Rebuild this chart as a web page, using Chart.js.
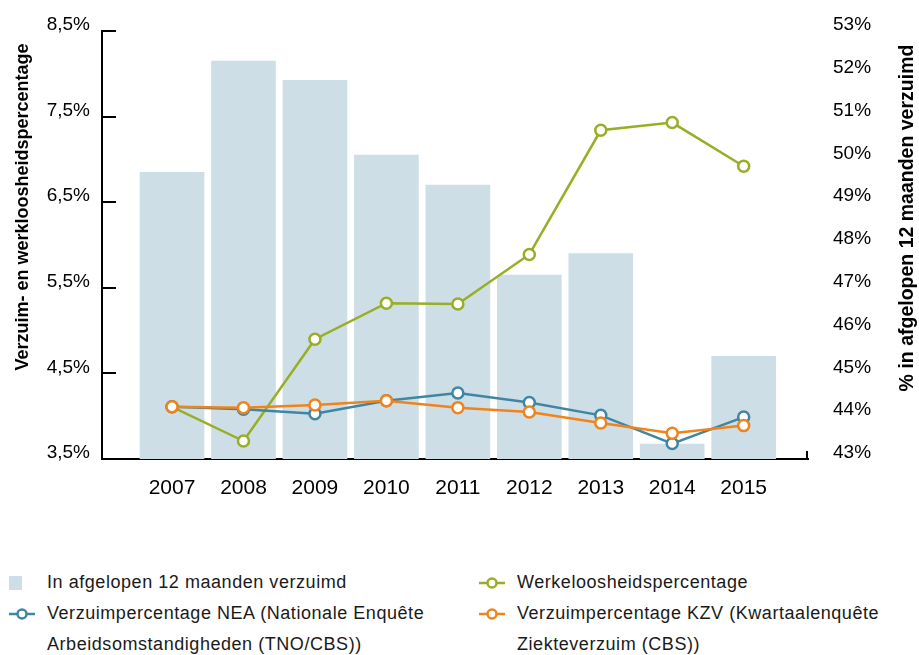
<!DOCTYPE html>
<html>
<head>
<meta charset="utf-8">
<script src="https://cdn.jsdelivr.net/npm/chart.js@4.4.1/dist/chart.umd.min.js"></script>
<style>
  body { margin: 0; background: #fff; font-family: "Liberation Sans", Arial, sans-serif; }
  #wrap { position: relative; width: 919px; height: 655px; }
  #chart { position: absolute; left: 0; top: 0; }
  .item { position: absolute; font-size: 18px; line-height: 31px; color: #1a1a1a; letter-spacing: 0.55px; }
  .item .mk { position: absolute; left: 0; top: 9px; }
  .item .txt { margin-left: 38px; white-space: nowrap; }
  .swatch { width: 13px; height: 14px; background: #cedee7; }
</style>
</head>
<body>
<div id="wrap">
  <canvas id="chart" width="919" height="500"></canvas>

  <div class="item" style="left:9px; top:567px;">
    <div class="mk swatch"></div>
    <div class="txt">In afgelopen 12 maanden verzuimd</div>
  </div>
  <div class="item" style="left:9px; top:598px;">
    <svg class="mk" width="26" height="14"><line x1="0" y1="7" x2="26" y2="7" stroke="#3f86a3" stroke-width="2.5"/><circle cx="13" cy="7" r="4.5" fill="#fff" stroke="#3f86a3" stroke-width="2.5"/></svg>
    <div class="txt">Verzuimpercentage NEA (Nationale Enquête<br>Arbeidsomstandigheden (TNO/CBS))</div>
  </div>
  <div class="item" style="left:479px; top:567px;">
    <svg class="mk" width="26" height="14"><line x1="0" y1="7" x2="26" y2="7" stroke="#97ae25" stroke-width="2.5"/><circle cx="13" cy="7" r="4.5" fill="#fff" stroke="#97ae25" stroke-width="2.5"/></svg>
    <div class="txt">Werkeloosheidspercentage</div>
  </div>
  <div class="item" style="left:479px; top:598px;">
    <svg class="mk" width="26" height="14"><line x1="0" y1="7" x2="26" y2="7" stroke="#f0841a" stroke-width="2.5"/><circle cx="13" cy="7" r="4.5" fill="#fff" stroke="#f0841a" stroke-width="2.5"/></svg>
    <div class="txt">Verzuimpercentage KZV (Kwartaalenquête<br>Ziekteverzuim (CBS))</div>
  </div>
</div>

<script>
// data
const years = [2007, 2008, 2009, 2010, 2011, 2012, 2013, 2014, 2015];
const verzuimd12m = [49.7, 52.3, 51.85, 50.1, 49.4, 47.3, 47.8, 43.35, 45.4];   // right axis
const werkloosheid = [4.11, 3.71, 4.90, 5.32, 5.31, 5.89, 7.34, 7.43, 6.92];
const verzuimNEA = [4.11, 4.08, 4.03, 4.18, 4.27, 4.16, 4.01, 3.68, 3.99];
const verzuimKZV = [4.11, 4.10, 4.13, 4.18, 4.10, 4.05, 3.92, 3.80, 3.89];
const leftTicks = [3.5, 4.5, 5.5, 6.5, 7.5, 8.5];
const rightTicks = [43, 44, 45, 46, 47, 48, 49, 50, 51, 52, 53];

const toPoints = (vals) => years.map((yr, i) => ({ x: yr, y: vals[i] }));

const fontFamily = '"Liberation Sans", Arial, sans-serif';
const tickFont = { family: fontFamily, size: 19 };

// inward ticks on the left axis, end tick bottom right, rotated axis titles
const axisExtras = {
  id: 'axisExtras',
  afterDraw(chart) {
    const { ctx, chartArea: area, scales } = chart;
    ctx.save();
    ctx.strokeStyle = '#000';
    ctx.lineWidth = 2;
    leftTicks.forEach(v => {
      const y = Math.round(scales.y.getPixelForValue(v));
      ctx.beginPath();
      ctx.moveTo(area.left, y);
      ctx.lineTo(area.left + 14, y);
      ctx.stroke();
    });
    ctx.beginPath();
    ctx.moveTo(area.right - 1, area.bottom - 8);
    ctx.lineTo(area.right - 1, area.bottom);
    ctx.stroke();

    ctx.fillStyle = '#000';
    ctx.textAlign = 'center';
    ctx.textBaseline = 'middle';
    ctx.font = 'bold 18px ' + fontFamily;
    ctx.translate(23, 207);
    ctx.rotate(-Math.PI / 2);
    ctx.fillText('Verzuim- en werkloosheidspercentage', 0, 0);
    ctx.setTransform(1, 0, 0, 1, 0, 0);
    ctx.font = 'bold 19.5px ' + fontFamily;
    ctx.translate(908, 218);
    ctx.rotate(-Math.PI / 2);
    ctx.fillText('% in afgelopen 12 maanden verzuimd', 0, 0);
    ctx.restore();
  }
};

new Chart(document.getElementById('chart'), {
  data: {
    datasets: [
      {
        type: 'line',
        label: 'Verzuimpercentage KZV (Kwartaalenquête Ziekteverzuim (CBS))',
        data: toPoints(verzuimKZV),
        yAxisID: 'y',
        borderColor: '#f0841a',
        borderWidth: 2.5,
        pointRadius: 5.5,
        pointBorderWidth: 2.5,
        pointBackgroundColor: '#fff',
        pointBorderColor: '#f0841a',
        tension: 0,
        order: 1
      },
      {
        type: 'line',
        label: 'Verzuimpercentage NEA (Nationale Enquête Arbeidsomstandigheden (TNO/CBS))',
        data: toPoints(verzuimNEA),
        yAxisID: 'y',
        borderColor: '#3f86a3',
        borderWidth: 2.5,
        pointRadius: 5.5,
        pointBorderWidth: 2.5,
        pointBackgroundColor: '#fff',
        pointBorderColor: '#3f86a3',
        tension: 0,
        order: 2
      },
      {
        type: 'line',
        label: 'Werkeloosheidspercentage',
        data: toPoints(werkloosheid),
        yAxisID: 'y',
        borderColor: '#97ae25',
        borderWidth: 2.5,
        pointRadius: 5.5,
        pointBorderWidth: 2.5,
        pointBackgroundColor: '#fff',
        pointBorderColor: '#97ae25',
        tension: 0,
        order: 3
      },
      {
        type: 'bar',
        label: 'In afgelopen 12 maanden verzuimd',
        data: toPoints(verzuimd12m),
        yAxisID: 'y2',
        backgroundColor: '#cedee7',
        barThickness: 64,
        order: 4
      }
    ]
  },
  options: {
    responsive: false,
    devicePixelRatio: 1,
    animation: false,
    layout: { padding: { top: 31, left: 0, right: 0, bottom: 0 } },
    plugins: {
      legend: { display: false },
      tooltip: { enabled: false }
    },
    scales: {
      x: {
        type: 'linear',
        offset: false,
        min: 2006.02,
        max: 2015.9,
        afterBuildTicks: s => { s.ticks = years.map(v => ({ value: v })); },
        afterFit: s => { s.height = 41; },
        grid: { display: false, drawTicks: false },
        border: { display: true, color: '#000', width: 2 },
        ticks: {
          color: '#000',
          font: { family: fontFamily, size: 21 },
          padding: 17,
          maxRotation: 0,
          callback: v => String(v)
        }
      },
      y: {
        position: 'left',
        min: 3.5,
        max: 8.5,
        afterBuildTicks: s => { s.ticks = leftTicks.map(v => ({ value: v })); },
        afterFit: s => { s.width = 102; },
        grid: { display: false, drawTicks: false },
        border: { display: true, color: '#000', width: 2 },
        ticks: {
          color: '#000',
          font: tickFont,
          padding: 12,
          labelOffset: -6,
          callback: v => v.toFixed(1).replace('.', ',') + '%'
        }
      },
      y2: {
        position: 'right',
        min: 43,
        max: 53,
        afterBuildTicks: s => { s.ticks = rightTicks.map(v => ({ value: v })); },
        afterFit: s => { s.width = 111; },
        // invisible tick marks keep the labels away from the plot without a big ticks.padding
        grid: { display: true, drawOnChartArea: false, drawTicks: true, tickLength: 6, color: 'rgba(0,0,0,0)' },
        border: { display: false },
        ticks: {
          color: '#000',
          font: tickFont,
          padding: 19,
          labelOffset: -6,
          callback: v => v + '%'
        }
      }
    }
  },
  plugins: [axisExtras]
});
</script>
</body>
</html>
